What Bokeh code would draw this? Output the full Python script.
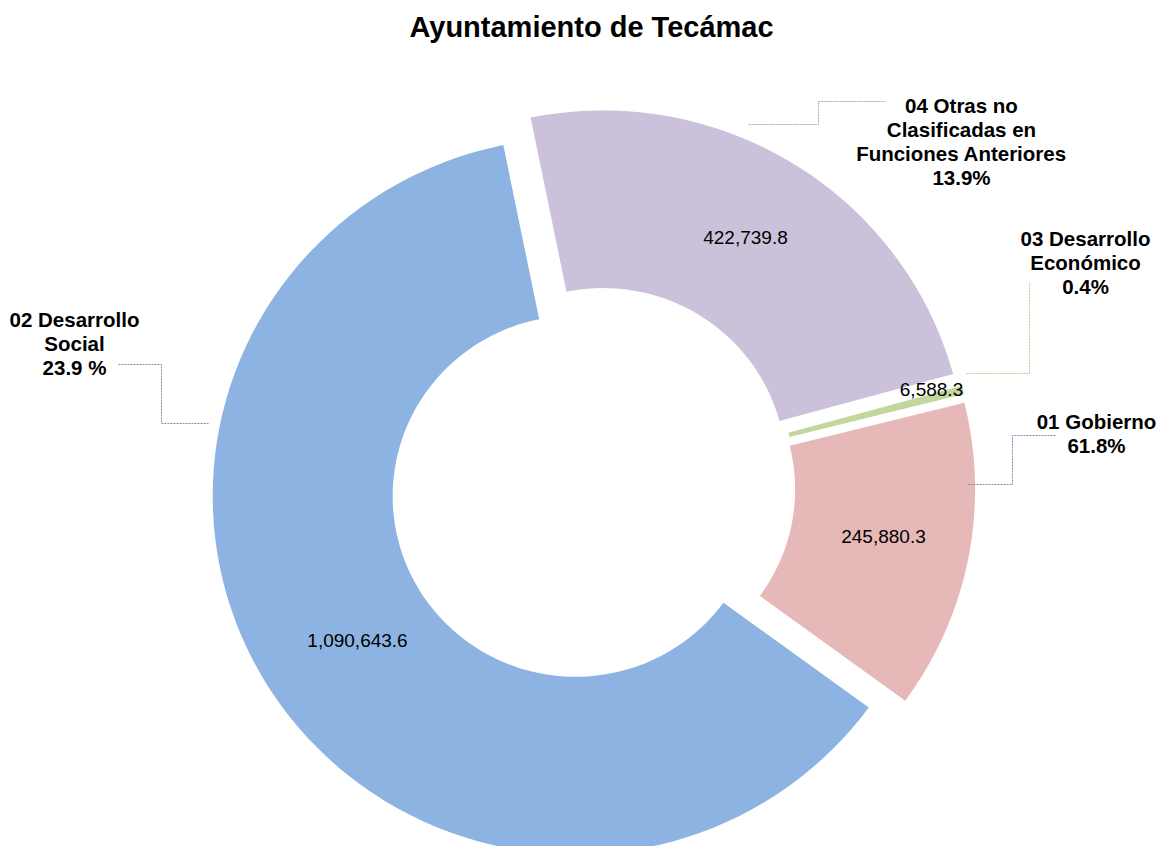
import math
from bokeh.plotting import figure
from bokeh.models import Range1d, ColumnDataSource
from bokeh.core.properties import value
from bokeh.embed import file_html
from bokeh.resources import INLINE

# ---------------- data ----------------
title_text = "Ayuntamiento de Tecámac"
categories = ["01 Gobierno", "02 Desarrollo Social", "03 Desarrollo Económico",
              "04 Otras no Clasificadas en Funciones Anteriores"]
values = [245880.3, 1090643.6, 6588.3, 422739.8]
value_labels = ["245,880.3", "1,090,643.6", "6,588.3", "422,739.8"]
name_lines = [["01 Gobierno"], ["02 Desarrollo", "Social"], ["03 Desarrollo", "Económico"],
              ["04 Otras no", "Clasificadas en", "Funciones Anteriores"]]
pct_labels = ["61.8%", "23.9 %", "0.4%", "13.9%"]
colors = ["#E6B9B8", "#8DB3E2", "#C3D69B", "#CCC1DA"]
line_colors = ["#7F8FB0", "#8A8AA8", "#C8C890", "#A8A8A8"]

# ---------------- layout / style ----------------
PAGE_H = 846
W, H = 1160, 846
order = [3, 2, 0, 1]          # clockwise drawing order
first_angle = -11.5           # degrees clockwise from 12 o'clock
CX, CY = 592.0, 485.0         # pixel position of the donut centre
R_OUT, R_IN = 363.0, 183.0
SQUASH = 0.987                # vertical / horizontal ratio of the ring
EXPLODE = 20.0
N_ARC = 160

def Y(py):
    return PAGE_H - py

p = figure(width=W, height=H, x_range=Range1d(0, W), y_range=Range1d(PAGE_H - H, PAGE_H),
           output_backend="svg", toolbar_location=None, min_border=0,
           x_axis_location=None, y_axis_location=None)
p.grid.visible = False
p.outline_line_color = None
p.background_fill_color = "white"
p.border_fill_color = "white"

total = sum(values)
xs, ys, fc, names = [], [], [], []
theta = first_angle
for i in order:
    span = 360.0 * values[i] / total
    mid = math.radians(theta + span / 2)
    cx = CX + EXPLODE * math.sin(mid)
    cy = Y(CY) + SQUASH * EXPLODE * math.cos(mid)
    n = max(4, int(N_ARC * span / 360) + 2)
    angs = [math.radians(theta + span * j / (n - 1)) for j in range(n)]
    px = [cx + R_OUT * math.sin(a) for a in angs] + [cx + R_IN * math.sin(a) for a in reversed(angs)]
    py = [cy + SQUASH * R_OUT * math.cos(a) for a in angs] + \
         [cy + SQUASH * R_IN * math.cos(a) for a in reversed(angs)]
    xs.append(px)
    ys.append(py)
    fc.append(colors[i])
    names.append(categories[i])
    theta += span

src = ColumnDataSource(dict(xs=xs, ys=ys, color=fc, name=names))
p.patches(xs="xs", ys="ys", fill_color="color", line_color=None, source=src)

FONT = value("Liberation Sans")

# value labels inside slices (pixel positions)
value_pos = [(883, 536), (357, 640), (931, 389), (745, 237)]
p.text(x=[q[0] for q in value_pos], y=[Y(q[1]) for q in value_pos], text=value_labels,
       text_font=FONT, text_font_size="19px", text_color="#000000",
       text_align="center", text_baseline="middle")

# category labels (bold) : centre x, first line y, line step
label_pos = [(1096, 421), (74, 319), (1085, 238), (961, 105)]
LINE_STEP = 24
lx, ly, lt = [], [], []
for i in range(4):
    lines = name_lines[i] + [pct_labels[i]]
    for k, t in enumerate(lines):
        lx.append(label_pos[i][0])
        ly.append(Y(label_pos[i][1] + k * LINE_STEP))
        lt.append(t)
p.text(x=lx, y=ly, text=lt, text_font=FONT, text_font_size="20.5px", text_font_style="bold",
       text_color="#000000", text_align="center", text_baseline="middle")

# leader lines
leaders = [
    [(967, 484), (1012, 484), (1012, 435), (1056, 435)],
    [(118, 364), (161, 364), (161, 423), (208, 423)],
    [(966, 373), (1029, 373), (1029, 282)],
    [(748, 124), (818, 124), (818, 101), (885, 101)],
]
for i, pts in enumerate(leaders):
    p.line([q[0] for q in pts], [Y(q[1]) for q in pts], line_color=line_colors[i],
           line_width=1, line_dash="2 1")

# title
p.text(x=[591], y=[Y(26)], text=[title_text], text_font=FONT, text_font_size="29px",
       text_font_style="bold", text_color="#000000", text_align="center", text_baseline="middle")

open("out.html", "w").write(file_html(p, INLINE))
